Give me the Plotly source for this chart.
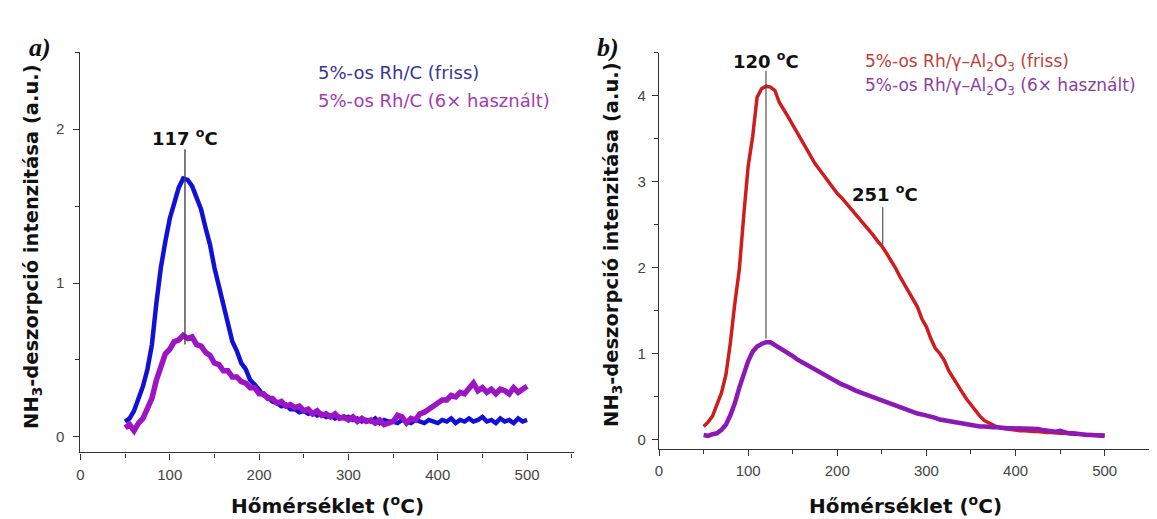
import plotly.graph_objects as go

# ---------------- data ----------------
temps = list(range(50, 505, 5))  # measurement temperatures (°C)

rhc_fresh = [
    0.10, 0.12, 0.17, 0.25, 0.33, 0.44, 0.60, 0.87, 1.10, 1.27,
    1.42, 1.52, 1.62, 1.68, 1.67, 1.63, 1.55, 1.48, 1.36, 1.25,
    1.10, 0.98, 0.85, 0.73, 0.62, 0.56, 0.48, 0.44, 0.37, 0.34,
    0.30, 0.27, 0.26, 0.23, 0.22, 0.20, 0.21, 0.18, 0.18, 0.16,
    0.17, 0.15, 0.16, 0.14, 0.15, 0.13, 0.14, 0.12, 0.13, 0.12,
    0.13, 0.11, 0.12, 0.10, 0.11, 0.10, 0.12, 0.09, 0.11, 0.10,
    0.10, 0.09, 0.11, 0.10, 0.09, 0.11, 0.10, 0.09, 0.11, 0.10,
    0.09, 0.11, 0.10, 0.12, 0.09, 0.11, 0.10, 0.12, 0.10, 0.11,
    0.13, 0.10, 0.11, 0.09, 0.12, 0.10, 0.11, 0.09, 0.12, 0.10, 0.11,
]
rhc_used = [
    0.06, 0.08, 0.04, 0.09, 0.12, 0.19, 0.25, 0.37, 0.46, 0.54,
    0.57, 0.62, 0.63, 0.66, 0.64, 0.65, 0.60, 0.59, 0.55, 0.53,
    0.48, 0.47, 0.43, 0.43, 0.39, 0.39, 0.36, 0.35, 0.32, 0.32,
    0.28, 0.28, 0.25, 0.25, 0.22, 0.23, 0.20, 0.21, 0.19, 0.20,
    0.17, 0.18, 0.15, 0.17, 0.14, 0.15, 0.13, 0.15, 0.12, 0.13,
    0.11, 0.13, 0.10, 0.12, 0.10, 0.11, 0.09, 0.11, 0.08, 0.09,
    0.10, 0.14, 0.13, 0.09, 0.12, 0.11, 0.15, 0.16, 0.18, 0.20,
    0.21, 0.24, 0.24, 0.27, 0.26, 0.29, 0.28, 0.31, 0.35, 0.30,
    0.32, 0.29, 0.31, 0.28, 0.31, 0.30, 0.28, 0.32, 0.29, 0.31, 0.33,
]
rhal_fresh = [
    0.15, 0.20, 0.27, 0.40, 0.54, 0.75, 1.12, 1.58, 1.97, 2.60,
    3.18, 3.52, 3.98, 4.08, 4.11, 4.10, 4.06, 3.92, 3.84, 3.75,
    3.66, 3.57, 3.47, 3.38, 3.30, 3.21, 3.14, 3.07, 3.00, 2.92,
    2.86, 2.81, 2.75, 2.68, 2.63, 2.56, 2.50, 2.44, 2.38, 2.31,
    2.25, 2.17, 2.09, 2.00, 1.90, 1.81, 1.73, 1.63, 1.54, 1.40,
    1.31, 1.17, 1.06, 1.00, 0.92, 0.80, 0.71, 0.62, 0.55, 0.47,
    0.40, 0.33, 0.27, 0.22, 0.19, 0.16, 0.14, 0.13, 0.12, 0.11,
    0.11, 0.10, 0.10, 0.09, 0.09, 0.09, 0.08, 0.08, 0.08, 0.07,
    0.07, 0.07, 0.06, 0.06, 0.06, 0.06, 0.05, 0.05, 0.05, 0.05, 0.05,
]
rhal_used = [
    0.05, 0.04, 0.06, 0.07, 0.11, 0.17, 0.28, 0.42, 0.60, 0.76,
    0.91, 1.02, 1.08, 1.11, 1.13, 1.13, 1.10, 1.07, 1.04, 1.00,
    0.97, 0.93, 0.90, 0.87, 0.84, 0.81, 0.78, 0.75, 0.72, 0.69,
    0.66, 0.64, 0.62, 0.59, 0.57, 0.55, 0.53, 0.51, 0.49, 0.47,
    0.45, 0.43, 0.41, 0.39, 0.37, 0.35, 0.33, 0.32, 0.30, 0.29,
    0.28, 0.26, 0.25, 0.23, 0.22, 0.21, 0.20, 0.19, 0.18, 0.17,
    0.16, 0.16, 0.15, 0.15, 0.14, 0.14, 0.14, 0.13, 0.13, 0.13,
    0.13, 0.13, 0.13, 0.13, 0.12, 0.12, 0.11, 0.10, 0.09, 0.09,
    0.10, 0.08, 0.07, 0.07, 0.06, 0.06, 0.05, 0.05, 0.05, 0.04, 0.04,
]

legend_a = ["5%-os Rh/C (friss)", "5%-os Rh/C (6× használt)"]
legend_b = ["5%-os Rh/γ–Al<sub>2</sub>O<sub>3</sub> (friss)",
            "5%-os Rh/γ–Al<sub>2</sub>O<sub>3</sub> (6× használt)"]
peak_a = 117
peaks_b = [120, 251]
x_title = "Hőmérséklet (<sup>o</sup>C)"
y_title = "NH<sub>3</sub>-deszorpció intenzitása (a.u.)"

# ---------------- figure ----------------
# page body has an 8px margin; figure placed at (8, 8) in the window
OFF = 8
W, H = 1157 - OFF, 519 - OFF
def px(x):
    return (x - OFF) / W
def py(y):
    return 1 - (y - OFF) / H

fig = go.Figure()
fig.add_trace(go.Scatter(x=temps, y=rhc_fresh, mode="lines", xaxis="x", yaxis="y",
                         line=dict(color="#1010d8", width=4.5)))
fig.add_trace(go.Scatter(x=temps, y=rhc_used, mode="lines", xaxis="x", yaxis="y",
                         line=dict(color="#9c14c4", width=5.5)))
fig.add_trace(go.Scatter(x=temps, y=rhal_fresh, mode="lines", xaxis="x2", yaxis="y2",
                         line=dict(color="#d01c1c", width=3.5)))
fig.add_trace(go.Scatter(x=temps, y=rhal_used, mode="lines", xaxis="x2", yaxis="y2",
                         line=dict(color="#8c18b8", width=4.5)))

tickfont = dict(family="Liberation Sans, Arial", size=15, color="#444444")
def xaxis(domain, anchor):
    return dict(domain=domain, anchor=anchor, range=[0, 552], tickvals=[0, 100, 200, 300, 400, 500],
                ticks="outside", ticklen=6, tickwidth=1.3, tickcolor="#333", ticklabelstandoff=2,
                minor=dict(dtick=50, tick0=0, ticks="outside", ticklen=4, tickcolor="#333", tickwidth=1.2),
                showline=True, linecolor="#333", linewidth=1.4, showgrid=False, zeroline=False,
                tickfont=tickfont)
def yaxis(domain, anchor, rng, vals, standoff):
    return dict(domain=domain, anchor=anchor, range=rng, tickvals=vals,
                ticks="outside", ticklen=6, tickwidth=1.3, tickcolor="#333", ticklabelstandoff=standoff,
                minor=dict(dtick=0.5, tick0=0, ticks="outside", ticklen=4, tickcolor="#333", tickwidth=1.2),
                showline=True, linecolor="#333", linewidth=1.4, showgrid=False, zeroline=False,
                tickfont=tickfont)

fig.update_layout(
    width=W, height=H, margin=dict(l=0, r=0, t=0, b=0),
    paper_bgcolor="white", plot_bgcolor="white", showlegend=False,
    xaxis=xaxis([px(76.7), px(571.5)], "y"),
    yaxis=yaxis([py(452.3), py(52.3)], "x", [-0.1, 2.5], [0, 1, 2], 6),
    xaxis2=xaxis([px(657.3), px(1151)], "y2"),
    yaxis2=yaxis([py(448.8), py(52.7)], "x2", [-0.11, 4.5], [0, 1, 2, 3, 4], 3),
)

ann = []
titlefont = dict(family="DejaVu Sans", size=20, color="#111")
for cx in (325, 905):
    ann.append(dict(text="<b>" + x_title + "</b>", x=px(cx), y=py(505), xref="paper", yref="paper",
                    showarrow=False, font=titlefont, xanchor="center", yanchor="middle"))
for cx, cy in ((28, 246), (610, 244)):
    ann.append(dict(text="<b>" + y_title + "</b>", x=px(cx), y=py(cy), xref="paper", yref="paper",
                    showarrow=False, textangle=-90, font=dict(family="DejaVu Sans", size=19.5, color="#111"),
                    xanchor="center", yanchor="middle"))
labfont = dict(family="Liberation Serif, DejaVu Serif", size=26, color="#111")
ann.append(dict(text="<b><i>a)</i></b>", x=px(23), y=py(31), xref="paper", yref="paper",
                showarrow=False, font=labfont))
ann.append(dict(text="<b><i>b)</i></b>", x=px(606), y=py(31), xref="paper", yref="paper",
                showarrow=False, font=labfont))

legfont = "DejaVu Sans"
for txt, col, cy in zip(legend_a, ["#35359a", "#a43ab0"], [72, 100]):
    ann.append(dict(text=txt, x=px(313), y=py(cy), xref="paper", yref="paper", showarrow=False,
                    xanchor="left", yanchor="middle", font=dict(family=legfont, size=18, color=col)))
for txt, col, cy in zip(legend_b, ["#c0403c", "#8a3ea2"], [62, 86]):
    ann.append(dict(text=txt, x=px(862), y=py(cy), xref="paper", yref="paper", showarrow=False,
                    xanchor="left", yanchor="middle", font=dict(family=legfont, size=17, color=col)))

pkfont = dict(family="DejaVu Sans", size=18, color="#111")
ann.append(dict(text="<b>%d <sup>o</sup>C</b>" % peak_a, x=peak_a, y=1.86, xref="x", yref="y",
                showarrow=False, xanchor="center", yanchor="bottom", font=pkfont))
ann.append(dict(text="<b>%d <sup>o</sup>C</b>" % peaks_b[0], x=peaks_b[0], y=4.25, xref="x2", yref="y2",
                showarrow=False, xanchor="center", yanchor="bottom", font=pkfont))
ann.append(dict(text="<b>%d <sup>o</sup>C</b>" % peaks_b[1], x=peaks_b[1] + 2, y=2.70, xref="x2", yref="y2",
                showarrow=False, xanchor="center", yanchor="bottom", font=pkfont))
fig.update_layout(annotations=ann)

linestyle = dict(color="#444", width=1.4)
fig.add_shape(type="line", xref="x", yref="y", x0=peak_a, x1=peak_a, y0=1.87, y1=0.60, line=linestyle)
fig.add_shape(type="line", xref="x2", yref="y2", x0=peaks_b[0], x1=peaks_b[0], y0=4.29, y1=1.17, line=dict(color="#444", width=1.1))
fig.add_shape(type="line", xref="x2", yref="y2", x0=peaks_b[1], x1=peaks_b[1], y0=2.70, y1=2.27, line=dict(color="#444", width=1.1))

fig.write_html("out.html")
